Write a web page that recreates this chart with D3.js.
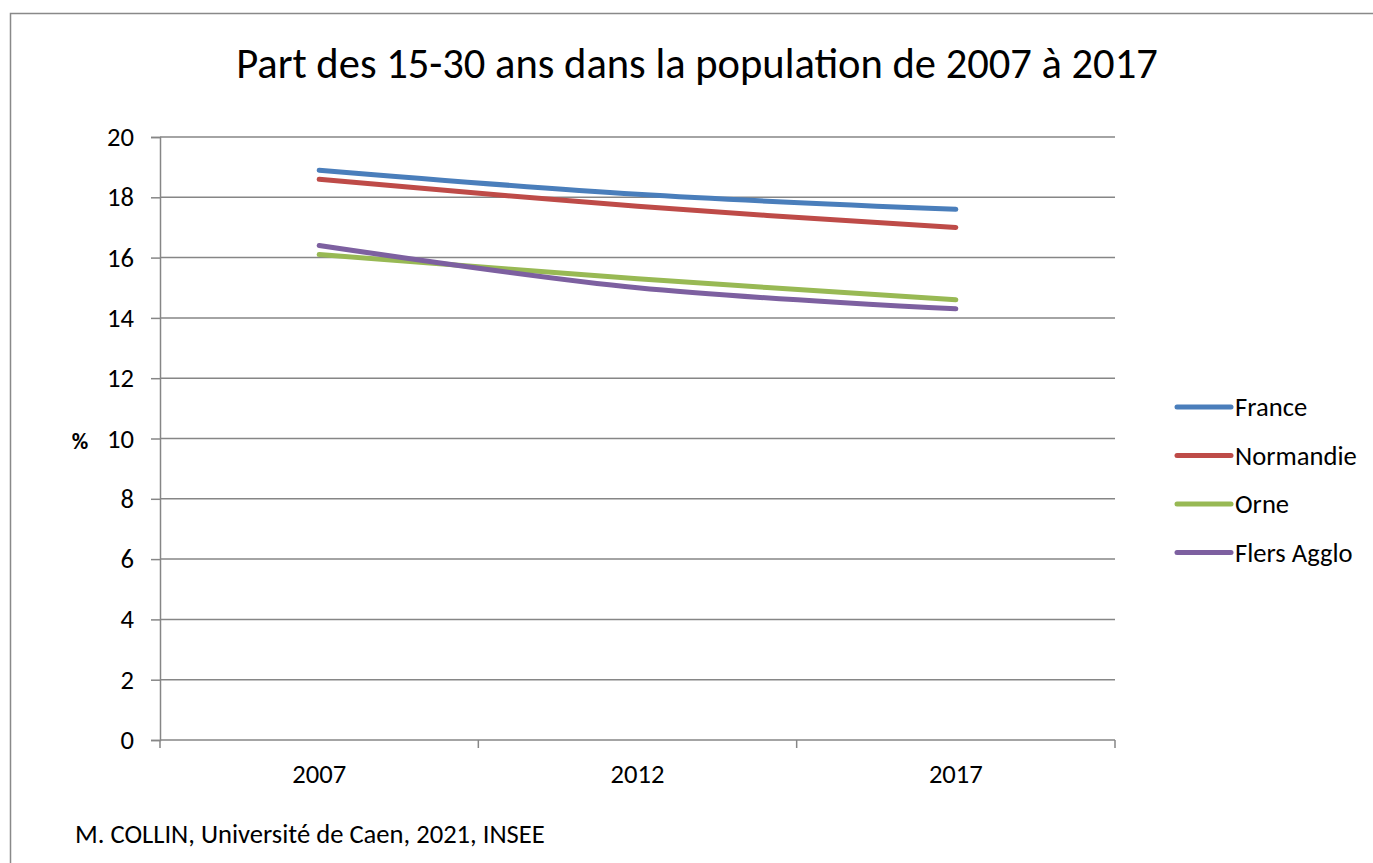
<!DOCTYPE html>
<html><head><meta charset="utf-8">
<script src="https://cdn.jsdelivr.net/npm/d3@7"></script>
<style>body{margin:0;background:#fff}svg{display:block}text{font-family:Carlito,Calibri,Lato,"Open Sans",sans-serif;fill:#000}</style>
</head><body>
<svg id="c" width="1373" height="863"></svg>
<script>
const title = "Part des 15-30 ans dans la population de 2007 à 2017";
const footer = "M. COLLIN, Université de Caen, 2021, INSEE";
const yLabel = "%";
const categories = ["2007", "2012", "2017"];
const seriesNames = ["France", "Normandie", "Orne", "Flers Agglo"];
const seriesColors = ["#4A7EBB", "#BE4B48", "#98B954", "#7D60A0"];
const franceValues = [18.9, 18.1, 17.6];
const normandieValues = [18.6, 17.7, 17.0];
const orneValues = [16.1, 15.3, 14.6];
const flersValues = [16.4, 15.0, 14.3];
const yTicks = [0, 2, 4, 6, 8, 10, 12, 14, 16, 18, 20];

const series = [franceValues, normandieValues, orneValues, flersValues].map((v, i) => ({name: seriesNames[i], color: seriesColors[i], values: v}));

const svg = d3.select("#c");
const FF = "Carlito,Calibri,Lato,'Open Sans',sans-serif";
svg.append("rect").attr("x", 10.5).attr("y", 13.5).attr("width", 1400).attr("height", 900)
  .attr("fill", "#fff").attr("stroke", "#898989").attr("stroke-width", 1.5);

// footer first to calibrate font scale (target width 470px at nominal 20px)
const f = svg.append("text").attr("x", 75).attr("y", 843).attr("font-size", 20).attr("font-family", FF).text(footer);
const k = 470 / f.node().getComputedTextLength();
f.attr("font-size", 20 * k);
const fs = 20 * k;

const pL = 160, pR = 1115, pT = 137, pB = 740;
const x = d3.scaleBand().domain(categories).range([pL, pR]).padding(0);
const y = d3.scaleLinear().domain([0, 20]).range([pB, pT]);
const grid = "#868686";

svg.append("g").selectAll("line").data(yTicks.filter(t => t > 0)).join("line")
  .attr("x1", pL).attr("x2", pR).attr("y1", d => y(d)).attr("y2", d => y(d))
  .attr("stroke", grid).attr("stroke-width", 1.5);

const ya = svg.append("g").attr("transform", `translate(${pL},0)`)
  .call(d3.axisLeft(y).tickValues(yTicks).tickSize(9).tickPadding(17));
ya.attr("font-size", fs).attr("font-family", FF);
ya.select(".domain").attr("stroke", grid).attr("stroke-width", 1.5);
ya.selectAll(".tick line").attr("stroke", grid).attr("stroke-width", 1.5);
ya.selectAll(".tick text").attr("fill", "#000");

const xa = svg.append("g").attr("transform", `translate(0,${pB})`)
  .call(d3.axisBottom(x).tickSize(0).tickPadding(24));
xa.attr("font-size", fs).attr("font-family", FF);
xa.select(".domain").remove();
xa.selectAll(".tick text").attr("fill", "#000");
svg.append("line").attr("x1", pL).attr("x2", pR).attr("y1", pB).attr("y2", pB).attr("stroke", grid).attr("stroke-width", 1.5);
const bounds = [pL].concat(categories.map(c => x(c) + x.bandwidth()));
svg.append("g").selectAll("line").data(bounds).join("line")
  .attr("x1", d => d).attr("x2", d => d).attr("y1", pB).attr("y2", pB + 8)
  .attr("stroke", grid).attr("stroke-width", 1.5);

const line = d3.line().x((d, i) => x(categories[i]) + x.bandwidth() / 2).y(d => y(d)).curve(d3.curveCatmullRom.alpha(0.5));
svg.append("g").selectAll("path").data(series).join("path")
  .attr("d", d => line(d.values)).attr("fill", "none").attr("stroke", d => d.color)
  .attr("stroke-width", 5).attr("stroke-linecap", "round").attr("stroke-linejoin", "round");

const lg = svg.append("g").selectAll("g").data(series).join("g")
  .attr("transform", (d, i) => `translate(1177,${407 + i * 48.5})`);
lg.append("line").attr("x1", 0).attr("x2", 54).attr("stroke", d => d.color).attr("stroke-width", 5).attr("stroke-linecap", "round");
lg.append("text").attr("x", 58).attr("dy", "0.35em").attr("font-size", fs).attr("font-family", FF).text(d => d.name);

svg.append("text").attr("x", 80).attr("y", 449).attr("text-anchor", "middle").attr("font-size", 17 * k).attr("font-weight", "bold").attr("font-family", FF).text(yLabel);

const t = svg.append("text").attr("x", 697).attr("y", 78).attr("text-anchor", "middle").attr("font-size", 37).attr("font-family", FF).text(title);
const tw = t.node().getComputedTextLength();
t.attr("font-size", 37 * 922 / tw);
</script>
</body></html>
